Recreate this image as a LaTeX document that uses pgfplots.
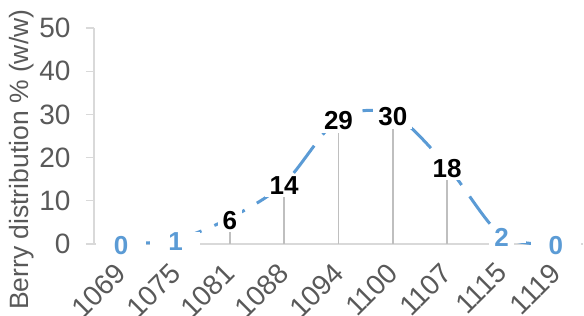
\documentclass[border=0pt]{standalone}
\usepackage{pgfplots}
\pgfplotsset{compat=1.18}
\usepackage{fontspec}
\setmainfont{Liberation Sans}
\definecolor{lblue}{HTML}{5B9BD5}
\definecolor{tgray}{HTML}{595959}
\definecolor{agray}{HTML}{D9D9D9}
\definecolor{dgray}{HTML}{BFBFBF}
\pgfplotsset{set layers}
\begin{document}
\begin{tikzpicture}
\begin{axis}[
  at={(0pt,0pt)}, anchor=south west,
  scale only axis,
  width=489pt, height=216pt,
  xmin=-0.5, xmax=8.5, ymin=0, ymax=50,
  axis x line=bottom, axis y line=left,
  axis line style={-, line width=1.2pt},
  x axis line style={draw=agray},
  y axis line style={draw=agray},
  xtick={0,...,8},
  xticklabels={1069,1075,1081,1088,1094,1100,1107,1115,1119},
  x tick style={draw=none},
  ytick={0,10,20,30,40,50},
  y tick style={draw=agray, line width=1.2pt},
  tick align=outside, major tick length=8pt,
  /pgf/number format/assume math mode=true,
  ticklabel style={font=\fontsize{28}{32}\selectfont, text=tgray},
  y tick label style={xshift=-12pt},
  x tick label style={overlay, xshift=-7pt, yshift=-7.5pt, rotate=45, anchor=north east, inner sep=1pt},
  ylabel={Berry distribution \% (w/w)},
  ylabel style={at={(axis description cs:-0.147,0.39)}, anchor=center, font=\fontsize{26.5}{30}\selectfont, text=tgray},
  clip=false,
]
% drop lines
\addplot[ycomb, draw=dgray, line width=1.5pt] coordinates {(0,0)(1,1)(2,6)(3,14)(4,29)(5,30)(6,18)(7,2)(8,0)};
% wide white boxes under low labels (hide axis line)
\addplot[draw=none, nodes near coords={}, every node near coord/.style={anchor=center, fill=white, minimum width=50pt, minimum height=16pt, inner sep=0pt}] coordinates {(0,0)(1,1)(7,2)(8,0)};
% smoothed dashed line
\addplot[smooth, tension=0.5, draw=lblue, line width=3pt, dash pattern=on 34pt off 14pt] coordinates {(0,0)(1,1)(2,6)(3,14)(4,29)(5,30)(6,18)(7,2)(8,0)};
% black labels
\addplot[draw=none, nodes near coords, point meta=explicit symbolic,
  every node near coord/.style={anchor=center, fill=white, inner xsep=5pt, inner ysep=3pt, yshift=-2pt, text=black, font=\fontsize{26}{30}\selectfont\bfseries}]
  coordinates {(2,6)[6] (3,14)[14] (4,29)[29] (5,30)[30] (6,18)[18]};
% blue labels
\addplot[draw=none, nodes near coords, point meta=explicit symbolic,
  every node near coord/.style={anchor=center, fill=white, inner xsep=5pt, inner ysep=3pt, yshift=-2pt, text=lblue, font=\fontsize{26}{30}\selectfont\bfseries}]
  coordinates {(0,0)[0] (1,1)[1] (7,2)[2] (8,0)[0]};
\end{axis}
\path (-94pt,-72pt) rectangle (490pt,244pt);
\end{tikzpicture}
\end{document}
